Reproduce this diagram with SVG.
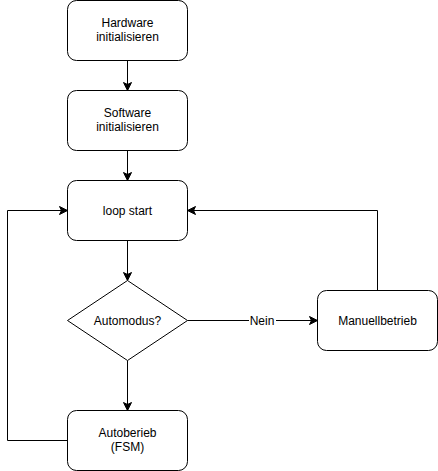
<svg xmlns="http://www.w3.org/2000/svg" width="438" height="471" viewBox="0 0 438 471">
  <style>
    .box { fill: #ffffff; stroke: #000000; stroke-width: 1; }
    .lbl { font-family: "Liberation Sans", Arial, sans-serif; font-size: 12px; fill: #000000; text-anchor: middle; }
    .edge { fill: none; stroke: #000000; stroke-width: 1; marker-end: url(#arrow); }
  </style>
  <defs>
    <marker id="arrow" markerUnits="userSpaceOnUse" markerWidth="12" markerHeight="12" viewBox="-10 -6 12 12" refX="0" refY="0" orient="auto">
      <path d="M0,0 L-8,-4 L-6,0 L-8,4 Z" fill="#000000" stroke="#000000" stroke-width="1"/>
    </marker>
  </defs>
  <rect width="438" height="471" fill="#ffffff"/>

  <g id="connectors">
    <path class="edge" d="M127.5,60.5 L127.5,90.5"/>
    <path class="edge" d="M127.5,150.5 L127.5,180.5"/>
    <path class="edge" d="M127.5,240.5 L127.5,280.5"/>
    <path class="edge" d="M127.5,360.5 L127.5,410.5"/>
    <path class="edge" d="M187.5,320.5 L317.5,320.5"/>
    <path class="edge" d="M377.5,290.5 L377.5,210.5 L187.5,210.5"/>
    <path class="edge" d="M67.5,440.5 L7.5,440.5 L7.5,210.5 L67.5,210.5"/>
    <rect x="249" y="313" width="27" height="15" fill="#ffffff"/>
    <text class="lbl" x="262" y="325">Nein</text>
  </g>

  <g id="hardware-init">
    <rect class="box" x="67.5" y="0.5" width="120" height="60" rx="9" ry="9"/>
    <text class="lbl" x="127.5" y="27">Hardware</text>
    <text class="lbl" x="127.5" y="41">initialisieren</text>
  </g>

  <g id="software-init">
    <rect class="box" x="67.5" y="90.5" width="120" height="60" rx="9" ry="9"/>
    <text class="lbl" x="127.5" y="117">Software</text>
    <text class="lbl" x="127.5" y="131">initialisieren</text>
  </g>

  <g id="loop-start">
    <rect class="box" x="67.5" y="180.5" width="120" height="60" rx="9" ry="9"/>
    <text class="lbl" x="127.5" y="215">loop start</text>
  </g>

  <g id="automodus">
    <path class="box" d="M127.5,280.5 L187.5,320.5 L127.5,360.5 L67.5,320.5 Z"/>
    <text class="lbl" x="127.5" y="325">Automodus?</text>
  </g>

  <g id="manuellbetrieb">
    <rect class="box" x="317.5" y="290.5" width="120" height="60" rx="9" ry="9"/>
    <text class="lbl" x="377.5" y="325">Manuellbetrieb</text>
  </g>

  <g id="autobetrieb">
    <rect class="box" x="67.5" y="410.5" width="120" height="60" rx="9" ry="9"/>
    <text class="lbl" x="127.5" y="437">Autoberieb</text>
    <text class="lbl" x="127.5" y="451">(FSM)</text>
  </g>
</svg>
